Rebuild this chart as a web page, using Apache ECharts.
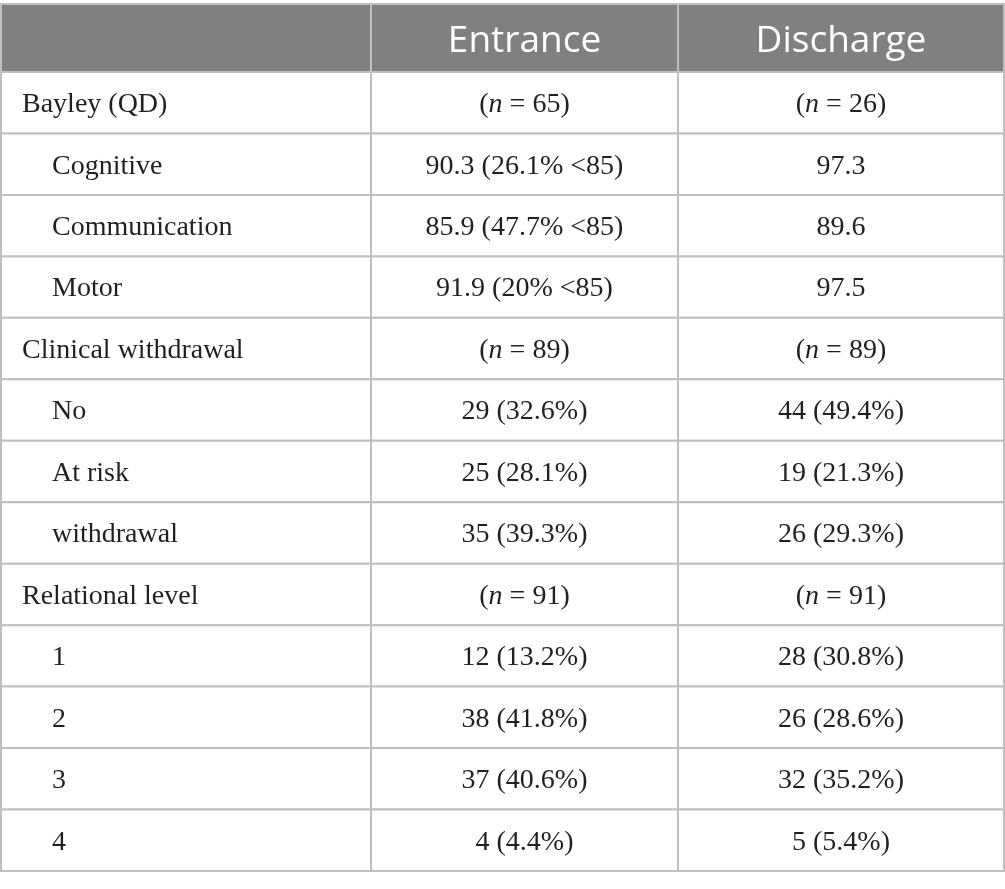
<!DOCTYPE html>
<html>
<head>
<meta charset="utf-8">
<script src="https://cdn.jsdelivr.net/npm/echarts@6/dist/echarts.min.js"></script>
<style>
  html, body { margin: 0; padding: 0; background: #fff; }
  #main { width: 1005px; height: 889px; }
</style>
</head>
<body>
<div id="main"></div>
<script>
// table content
const headers = ['', 'Entrance', 'Discharge'];
const rowLabels = ['Bayley (QD)', 'Cognitive', 'Communication', 'Motor',
  'Clinical withdrawal', 'No', 'At risk', 'withdrawal',
  'Relational level', '1', '2', '3', '4'];
const rowIndent = [0, 1, 1, 1, 0, 1, 1, 1, 0, 1, 1, 1, 1];
const entrance = ['(n = 65)', '90.3 (26.1% <85)', '85.9 (47.7% <85)', '91.9 (20% <85)',
  '(n = 89)', '29 (32.6%)', '25 (28.1%)', '35 (39.3%)',
  '(n = 91)', '12 (13.2%)', '38 (41.8%)', '37 (40.6%)', '4 (4.4%)'];
const discharge = ['(n = 26)', '97.3', '89.6', '97.5',
  '(n = 89)', '44 (49.4%)', '19 (21.3%)', '26 (29.3%)',
  '(n = 91)', '28 (30.8%)', '26 (28.6%)', '32 (35.2%)', '5 (5.4%)'];

// layout (axis units = pixels)
const colEdges = [0, 370, 677, 1003];
const headH = 68;
const rowH = (867 - headH) / rowLabels.length;
const rowEdges = [0];
for (let i = 0; i <= rowLabels.length; i++) rowEdges.push(headH + i * rowH);

const cells = [];
for (let c = 0; c < 3; c++) cells.push([c, 0]);
for (let r = 0; r < rowLabels.length; r++) {
  for (let c = 0; c < 3; c++) cells.push([c, r + 1]);
}

function cellText(c, r) {
  if (r === 0) return headers[c];
  const i = r - 1;
  const s = c === 0 ? rowLabels[i] : (c === 1 ? entrance[i] : discharge[i]);
  return s.replace(/^\(n = (\d+)\)$/, '({it|n} = $1)');
}

const chart = echarts.init(document.getElementById('main'));
chart.setOption({
  animation: false,
  grid: { left: 1, top: 4, width: 1003, height: 867 },
  xAxis: { type: 'value', min: 0, max: 1003, show: false },
  yAxis: { type: 'value', min: 0, max: 867, inverse: true, show: false },
  series: [{
    type: 'custom',
    clip: false,
    data: cells,
    renderItem: function (params, api) {
      const c = api.value(0);
      const r = api.value(1);
      const p0 = api.coord([colEdges[c], rowEdges[r]]);
      const p1 = api.coord([colEdges[c + 1], rowEdges[r + 1]]);
      const isHead = r === 0;
      const left = c === 0;
      const indent = (!isHead && left) ? rowIndent[r - 1] : 0;
      return {
        type: 'group',
        children: [{
          type: 'rect',
          shape: { x: p0[0], y: p0[1], width: p1[0] - p0[0], height: p1[1] - p0[1] },
          style: { fill: isHead ? '#7f807f' : '#ffffff', stroke: '#bfbfbf', lineWidth: 2 }
        }, {
          type: 'text',
          x: left ? p0[0] + 21 + indent * 30 : (p0[0] + p1[0]) / 2,
          y: (p0[1] + p1[1]) / 2 + (isHead ? 3 : 2),
          style: {
            text: cellText(c, r),
            fill: isHead ? '#ffffff' : '#231f20',
            font: isHead ? '37px "Open Sans"' : '28px "Liberation Serif"',
            align: left ? 'left' : 'center',
            verticalAlign: 'middle',
            rich: {
              it: { fontStyle: 'italic', fontFamily: 'Liberation Serif', fontSize: 28, fill: '#231f20' }
            }
          }
        }]
      };
    }
  }]
});
</script>
</body>
</html>
